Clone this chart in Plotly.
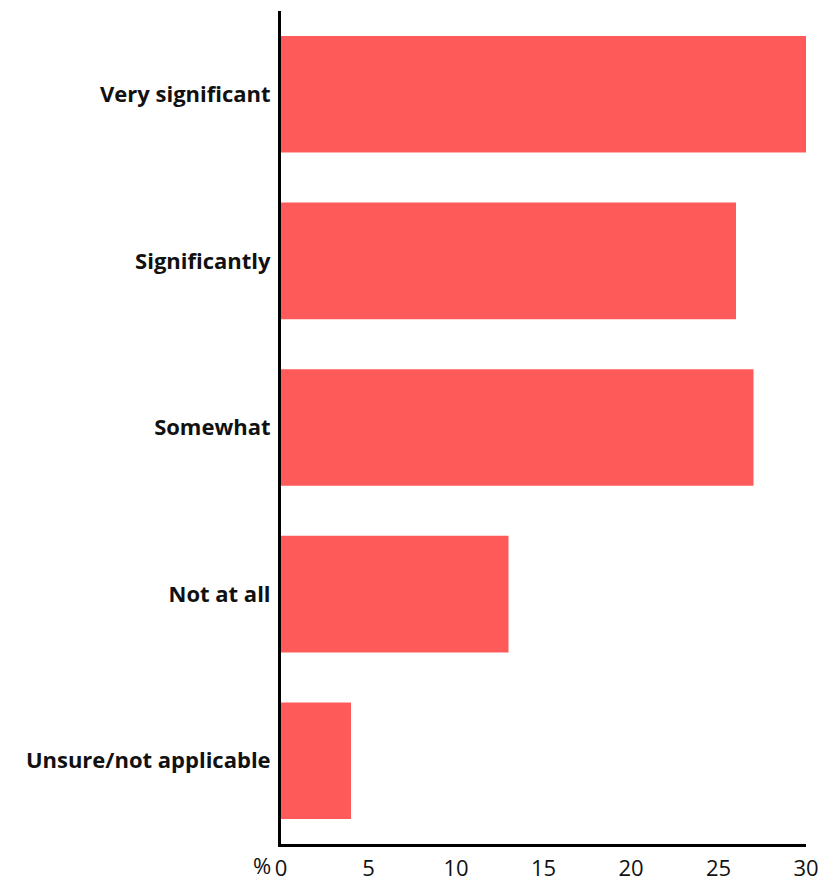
import plotly.graph_objects as go

categories = ["Very significant", "Significantly", "Somewhat", "Not at all", "Unsure/not applicable"]
values = [30, 26, 27, 13, 4]
tick_vals = [0, 5, 10, 15, 20, 25, 30]
tick_text = ["0", "5", "10", "15", "20", "25", "30"]

# page body adds an 8px offset; compensate so the plot lands where the reference has it
fig = go.Figure(go.Bar(
    x=values, y=categories, orientation="h",
    marker=dict(color="#FF5A5A", line=dict(width=0)),
    width=0.7,
))

fig.update_layout(
    width=821, height=870,
    margin=dict(l=273, r=23, t=3, b=34, autoexpand=False),
    plot_bgcolor="white", paper_bgcolor="white",
    showlegend=False,
    font=dict(family="Open Sans", color="#111111"),
)
fig.update_xaxes(
    range=[0, 30], tickvals=tick_vals, ticktext=tick_text,
    showgrid=False, zeroline=False, automargin=False,
    showline=True, linecolor="black", linewidth=3,
    ticks="", ticklabelstandoff=3,
    tickfont=dict(size=22, family="Open Sans", color="#111111"),
)
fig.update_yaxes(
    categoryorder="array", categoryarray=categories[::-1],
    showgrid=False, zeroline=False, automargin=False,
    showline=True, linecolor="black", linewidth=3,
    ticks="", ticklabelstandoff=3,
    tickfont=dict(size=22, family="Open Sans", color="#111111", weight="bold"),
)
fig.add_annotation(
    text="%", x=0, y=0, xref="x", yref="paper",
    xanchor="right", yanchor="top", xshift=-8, yshift=-4,
    showarrow=False, font=dict(size=22, family="Open Sans", color="#111111"),
)
fig.write_html("out.html")
